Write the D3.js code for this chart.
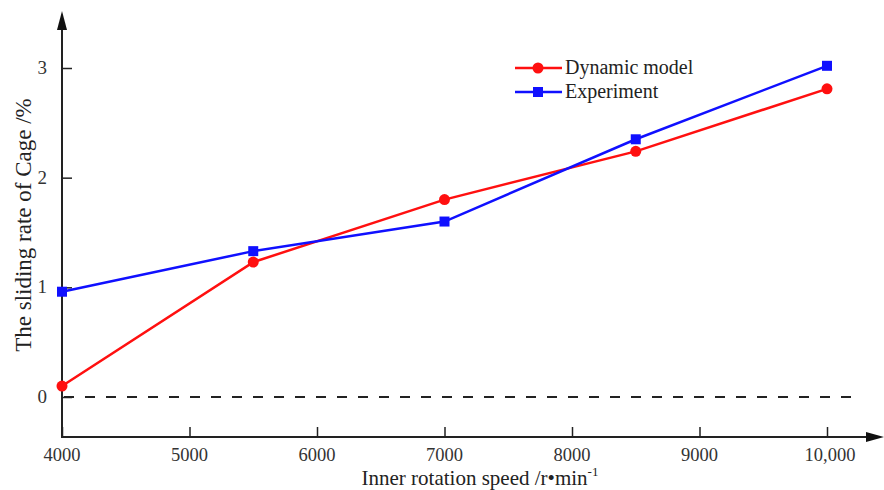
<!DOCTYPE html>
<html><head><meta charset="utf-8">
<script src="https://cdn.jsdelivr.net/npm/d3@7"></script>
<style>body{margin:0;background:#fff}svg{display:block}</style>
</head><body><svg id="c" width="884" height="490" font-family="'Times New Roman', 'Liberation Serif', serif"></svg>
<script>
const speeds = [4000, 5500, 7000, 8500, 10000];
const dynamicModel = [0.10, 1.23, 1.80, 2.24, 2.81];
const experiment = [0.96, 1.33, 1.60, 2.35, 3.02];
const xTicks = [4000, 5000, 6000, 7000, 8000, 9000, 10000];
const xTickLabels = ["4000", "5000", "6000", "7000", "8000", "9000", "10,000"];
const yTicks = [0, 1, 2, 3];
const seriesNames = ["Dynamic model", "Experiment"];

const svg = d3.select("#c");
const FONT = "'Times New Roman', 'Liberation Serif', serif";
const x = d3.scaleLinear().domain([4000, 10000]).range([62, 827]);
const y = d3.scaleLinear().domain([0, 3]).range([397, 68]);
const axisY = 437;

svg.append("line").attr("x1", 62).attr("x2", 62).attr("y1", axisY + 1).attr("y2", 22)
  .attr("stroke", "#222").attr("stroke-width", 2);
svg.append("path").attr("d", "M62,11 L57,30 L67,30 Z").attr("fill", "#111");
svg.append("line").attr("x1", 61).attr("x2", 872).attr("y1", axisY).attr("y2", axisY)
  .attr("stroke", "#222").attr("stroke-width", 2);
svg.append("path").attr("d", "M884,437 L866,432 L866,442 Z").attr("fill", "#111");

const xa = svg.append("g").attr("transform", `translate(0,${axisY})`)
  .call(d3.axisTop(x).tickValues(xTicks).tickSize(10).tickFormat(""));
xa.select(".domain").remove();
xa.selectAll("line").attr("stroke", "#222").attr("stroke-width", 1.5);
svg.selectAll(".xl").data(xTicks).join("text").attr("class", "xl")
  .attr("font-family", FONT)
  .attr("x", d => x(d) + (d === 10000 ? 3 : 0)).attr("y", 461).attr("text-anchor", "middle")
  .attr("font-size", 18.5).attr("fill", "#333").text((d, i) => xTickLabels[i]);

const ya = svg.append("g").attr("transform", "translate(62,0)")
  .call(d3.axisRight(y).tickValues(yTicks).tickSize(10).tickFormat(""));
ya.select(".domain").remove();
ya.selectAll("line").attr("stroke", "#222").attr("stroke-width", 1.5);
svg.selectAll(".yl").data(yTicks).join("text").attr("class", "yl")
  .attr("font-family", FONT)
  .attr("x", 47).attr("y", d => y(d) + 6).attr("text-anchor", "end")
  .attr("font-size", 19).attr("fill", "#333").text(d => d);

svg.append("line").attr("x1", 64).attr("x2", 862).attr("y1", y(0)).attr("y2", y(0))
  .attr("stroke", "#222").attr("stroke-width", 2).attr("stroke-dasharray", "10,11");

svg.append("text").attr("transform", "translate(31,225) rotate(-90)").attr("font-family", FONT)
  .attr("text-anchor", "middle").attr("font-size", 23).attr("fill", "#222")
  .text("The sliding rate of Cage /%");
const xt = svg.append("text").attr("x", 480).attr("y", 485).attr("text-anchor", "middle")
  .attr("font-family", FONT).attr("font-size", 21).attr("fill", "#222");
xt.append("tspan").text("Inner rotation speed /r•min");
xt.append("tspan").attr("dy", -9).attr("font-size", 13).text("-1");

const line = d3.line().x(d => x(d[0])).y(d => y(d[1]));
const red = "#ff1010", blue = "#1010ff";
const dm = speeds.map((s, i) => [s, dynamicModel[i]]);
const ex = speeds.map((s, i) => [s, experiment[i]]);
svg.append("path").datum(dm).attr("d", line).attr("fill", "none").attr("stroke", red).attr("stroke-width", 2.5);
svg.append("path").datum(ex).attr("d", line).attr("fill", "none").attr("stroke", blue).attr("stroke-width", 2.5);
svg.selectAll(".dm").data(dm).join("circle").attr("class", "dm")
  .attr("cx", d => x(d[0])).attr("cy", d => y(d[1])).attr("r", 5.5).attr("fill", red);
svg.selectAll(".ex").data(ex).join("rect").attr("class", "ex")
  .attr("x", d => x(d[0]) - 5).attr("y", d => y(d[1]) - 5).attr("width", 10).attr("height", 10).attr("fill", blue);

const lg = [{n: seriesNames[0], c: red, m: "c", yy: 68}, {n: seriesNames[1], c: blue, m: "s", yy: 92}];
lg.forEach(l => {
  svg.append("line").attr("x1", 515).attr("x2", 562).attr("y1", l.yy).attr("y2", l.yy).attr("stroke", l.c).attr("stroke-width", 2.5);
  if (l.m === "c") svg.append("circle").attr("cx", 538).attr("cy", l.yy).attr("r", 5.5).attr("fill", l.c);
  else svg.append("rect").attr("x", 533).attr("y", l.yy - 5).attr("width", 10).attr("height", 10).attr("fill", l.c);
  svg.append("text").attr("font-family", FONT).attr("x", 565).attr("y", l.yy + 6).attr("font-size", 20).attr("fill", "#222").text(l.n);
});
</script></body></html>
